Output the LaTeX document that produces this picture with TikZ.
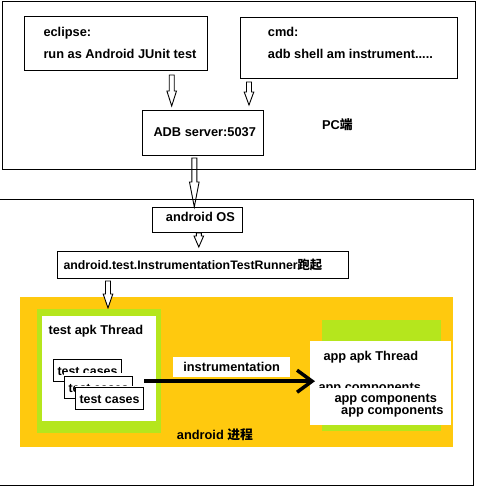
\documentclass[tikz,border=0pt]{standalone}
\usepackage{fontspec}
\setmainfont{Liberation Sans}
\newfontfamily\cjk{Noto Sans CJK SC}
\usetikzlibrary{calc,arrows.meta}

\definecolor{paintgold}{RGB}{255,201,14}
\definecolor{paintlime}{RGB}{181,230,29}

\tikzset{
	box/.style={draw, line width=1pt, inner sep=0pt, anchor=north west},
	area/.style={inner sep=0pt, anchor=north west},
	lbl/.style={anchor=base west, inner sep=0pt, font=\fontsize{12.8}{15}\selectfont\bfseries},
	casebox/.style={box, fill=white, minimum width=68, minimum height=22, text height=10.6pt, text depth=0pt, font=\fontsize{12.4}{15}\selectfont\bfseries},
	hollow/.style={draw, line width=0.9pt, fill=white, line join=miter},
	flow/.style={line width=3.5pt, -{Straight Barb[length=15pt,width=22pt]}},
}

% hollow block arrow: [head length]{tail}{tip}
\newcommand{\hollowarrow}[3][14]{%
	\coordinate (ha-s) at (#2);
	\coordinate (ha-e) at (#3);
	\draw[hollow] ($(ha-s)+(-2.5,0)$) -- ($(ha-e)+(-2.5,-#1)$) -- ($(ha-e)+(-4.8,-#1)$) -- (ha-e)
		-- ($(ha-e)+(4.8,-#1)$) -- ($(ha-e)+(2.5,-#1)$) -- ($(ha-s)+(2.5,0)$) -- cycle;
}

\begin{document}
\begin{tikzpicture}[x=1pt,y=1pt,yscale=-1]
	\useasboundingbox (0,0) rectangle (478,490);
	
	%Shape: Rectangle
	\node[box, minimum width=183, minimum height=54] (ecl) at (24,16) {};
	%Shape: Rectangle
	\node[box, minimum width=217, minimum height=61] (cmd) at (240,17) {};
	%Shape: Rectangle
	\node[box, minimum width=121, minimum height=45] (adb) at (142,110) {};
	%Shape: Rectangle
	\node[box, fill=white, minimum width=90, minimum height=25] (os) at (152,207) {};
	%Shape: Rectangle
	\node[box, minimum width=291, minimum height=27] (run) at (57,251) {};
	
	%Block Arrows
	\hollowarrow[15]{$(171.7,0 |- ecl.south)+(0,4)$}{$(171.7,0 |- adb.north)+(0,-4)$}
	\hollowarrow[13]{$(249,0 |- cmd.south)+(0,3)$}{$(249,0 |- adb.north)+(0,-5)$}
	\hollowarrow[25]{$(194.3,0 |- adb.south)+(0,2)$}{194.3,0 |- os.north}
	\hollowarrow[11]{198.8,0 |- os.south}{$(198.8,0 |- run.north)+(0,-4)$}
	
	%Shape: Rectangle (PC side)
	\node[box, minimum width=473, minimum height=168] (pc) at (2,1) {};
	%Shape: Rectangle (device side)
	\node[box, minimum width=474, minimum height=286] (dev) at (-1,199) {};
	
	% Text Node
	\node[lbl] (eclT) at (43.3,36) {eclipse:};
	% Text Node
	\node[lbl] (eclR) at (43.3,58) {run as Android JUnit test};
	% Text Node
	\node[lbl] (cmdT) at (267.7,36) {cmd:};
	% Text Node
	\node[lbl] (cmdR) at (267.7,58.7) {adb shell am instrument.....};
	% Text Node
	\node[lbl] (adbT) at (153.3,136.7) {ADB server:5037};
	% Text Node
	\node[lbl] (pcT) at (322,129) {PC{\cjk 端}};
	% Text Node
	\node[lbl] (osT) at (165.7,221.7) {android OS};
	% Text Node
	\node[lbl, font=\fontsize{12.3}{15}\selectfont\bfseries] (runT) at (63.3,269) {android.test.InstrumentationTestRunner{\cjk 跑起}};
	
	%Shape: Rectangle (process)
	\node[area, fill=paintgold, minimum width=433, minimum height=150] (proc) at (20,297) {};
	\hollowarrow[14]{$(108,0 |- run.south)+(0,2)$}{108,308}
	%Shape: Rectangle
	\node[area, fill=paintlime, minimum width=124, minimum height=124] (tg) at (37,309) {};
	%Shape: Rectangle
	\node[area, fill=white, minimum width=114, minimum height=105] (tw) at (42,316) {};
	%Shape: Rectangle
	\node[area, fill=paintlime, minimum width=119, minimum height=111] (ag) at (322,320) {};
	%Shape: Rectangle
	\node[area, fill=white, minimum width=141, minimum height=84] (aw) at (310,341) {};
	
	% Text Node
	\node[lbl] (tT) at (48.3,334) {test apk Thread};
	
	%Test cases, stacked
	\node[casebox] (c1) at (53,359) {test cases};
	\fill[white] ($(c1.north west)+(11,13.5)$) rectangle ($(c1.north east)+(11,17)$);
	\node[casebox] (c2) at (64,376) {test cases};
	\fill[white] ($(c2.north west)+(11,9.5)$) rectangle ($(c2.north east)+(11,11)$);
	\node[casebox] (c3) at (75,387) {test cases};
	
	%Shape: Rectangle
	\node[area, fill=white, minimum width=117, minimum height=20, font=\fontsize{12.8}{15}\selectfont\bfseries] (ins) at (173,357) {instrumentation};
	
	% Text Node
	\node[lbl] (aT) at (323.3,360) {app apk Thread};
	% Text Node
	\node[lbl] (ac1) at (318.3,391.5) {app components};
	%Shape: Rectangle
	\node[area, fill=white, minimum width=137, minimum height=9] (acm) at (312,387.3) {};
	% Text Node
	\node[lbl] (ac2) at (334.3,402.7) {app components};
	% Text Node
	\node[lbl] (ac3) at (341,414) {app components};
	
	%Straight Lines
	\coordinate (hit) at ($(aw.west)+(5,-2)$);
	\draw[flow] (c3.north east |- hit) -- (hit);
	
	% Text Node
	\node[lbl] (procT) at (176.7,439) {android {\cjk 进程}};
	
\end{tikzpicture}
\end{document}
